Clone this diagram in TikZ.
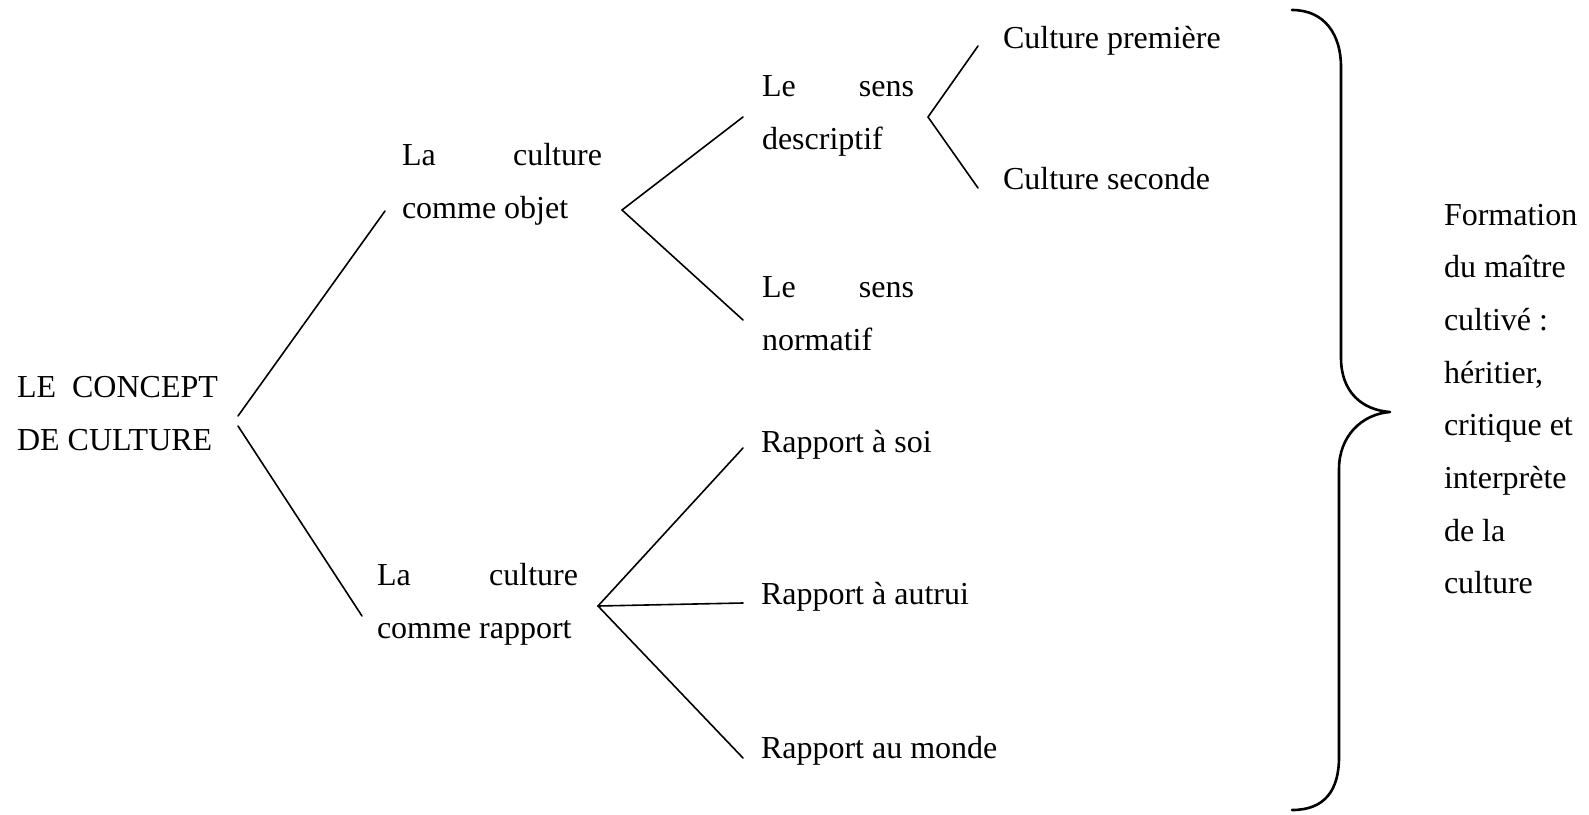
\documentclass[tikz,border=0pt]{standalone}
\usepackage{fontspec}
\setmainfont{Liberation Serif}
\newcommand{\mytwo}[3]{\begin{tabular}[t]{@{}p{#1}@{}}#2\\#3\end{tabular}}
\begin{document}
\begin{tikzpicture}[x=1bp,y=-1bp,
  txt/.style={anchor=base west, inner sep=0pt, outer sep=0pt, font=\fontsize{32bp}{53bp}\selectfont},
  ln/.style={line width=1.6bp, line cap=round},
  brace/.style={line width=2.6bp, line cap=round, line join=round}]
\useasboundingbox (0,0) rectangle (1589,814);
% texts
\node[txt] (root) at (17,397) {\begin{tabular}[t]{@{}l@{}}LE~ CONCEPT\\DE CULTURE\end{tabular}};
\node[txt] (obj) at (402,165) {\mytwo{200bp}{La\hfill culture}{comme objet}};
\node[txt] (rap) at (377,585) {\mytwo{201bp}{La\hfill culture}{comme rapport}};
\node[txt] (desc) at (762,96) {\mytwo{152bp}{Le\hfill sens}{descriptif}};
\node[txt] (norm) at (762,297) {\mytwo{152bp}{Le\hfill sens}{normatif}};
\node[txt] (prem) at (1003,49) {Culture première};
\node[txt] (sec) at (1003,189) {Culture seconde};
\node[txt] (soi) at (761,452) {Rapport à soi};
\node[txt] (autr) at (761,604) {Rapport à autrui};
\node[txt] (monde) at (761,758) {Rapport au monde};
\node[txt] (form) at (1444,225) {\fontsize{32bp}{52.7bp}\selectfont\begin{tabular}[t]{@{}l@{}}Formation\\du maître\\cultivé :\\héritier,\\critique et\\interprète\\de la\\culture\end{tabular}};
% connector points
\coordinate (r1) at (238,416);
\coordinate (r2) at (238,426);
\coordinate (obja) at (385,211);
\coordinate (rapa) at (362,616);
\coordinate (j1) at (622,210);
\coordinate (desca) at (743,117);
\coordinate (norma) at (743,320);
\coordinate (j2) at (928,117);
\coordinate (prema) at (978,46);
\coordinate (seca) at (978,188);
\coordinate (j3) at (598,606);
\coordinate (soia) at (743,448);
\coordinate (autra) at (743,603);
\coordinate (mondea) at (743,758);
% connectors
\draw[ln] (r1) -- (obja);
\draw[ln] (r2) -- (rapa);
\draw[ln] (j1) -- (desca);
\draw[ln] (j1) -- (norma);
\draw[ln] (j2) -- (prema);
\draw[ln] (j2) -- (seca);
\draw[ln] (j3) -- (soia);
\draw[ln] (j3) -- (autra);
\draw[ln] (j3) -- (mondea);
% brace
\draw[brace] (1292,10) .. controls (1325,10) and (1341,35) .. (1341,67)
  -- (1341,358) .. controls (1341,392) and (1362,410) .. (1390,412)
  .. controls (1362,414) and (1339,436) .. (1339,469)
  -- (1339,757) .. controls (1339,790) and (1325,810) .. (1292,810);
\end{tikzpicture}
\end{document}
